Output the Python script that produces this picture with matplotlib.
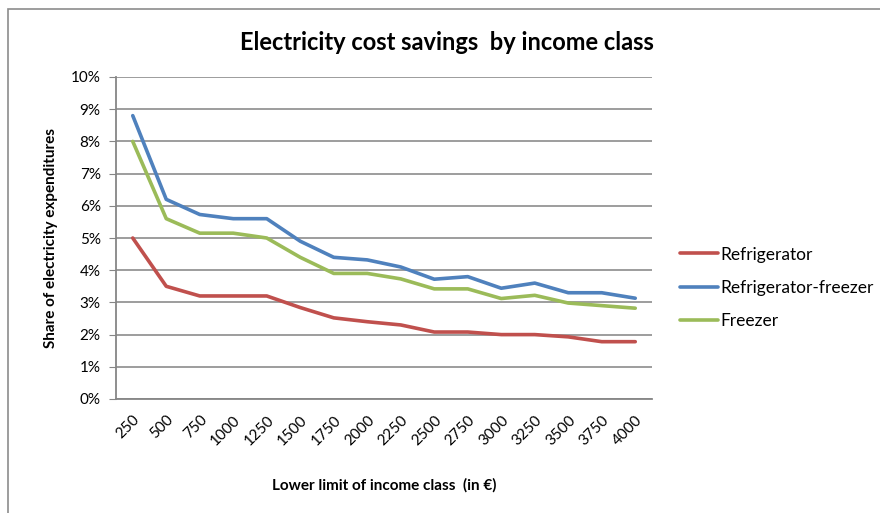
import matplotlib
matplotlib.use("Agg")
import matplotlib.pyplot as plt
from matplotlib.patches import Rectangle
from matplotlib.ticker import PercentFormatter

plt.rcParams['font.family'] = ['Lato', 'DejaVu Sans']

# ── data (share of electricity expenditures, %) ──
income_classes = ["250", "500", "750", "1000", "1250", "1500", "1750", "2000",
                  "2250", "2500", "2750", "3000", "3250", "3500", "3750", "4000"]
refrigerator = [5.0, 3.5, 3.2, 3.2, 3.2, 2.84, 2.52, 2.4, 2.3, 2.08, 2.08, 2.0, 2.0, 1.93, 1.78, 1.78]
fridge_freezer = [8.8, 6.2, 5.73, 5.6, 5.6, 4.9, 4.4, 4.32, 4.1, 3.72, 3.8, 3.44, 3.6, 3.3, 3.3, 3.13]
freezer = [8.0, 5.6, 5.15, 5.15, 5.0, 4.4, 3.9, 3.9, 3.73, 3.42, 3.42, 3.12, 3.22, 2.98, 2.9, 2.82]

series = [
    ("Refrigerator", refrigerator, "#C0504D"),
    ("Refrigerator-freezer", fridge_freezer, "#4F81BD"),
    ("Freezer", freezer, "#9BBB59"),
]

fig = plt.figure(figsize=(8.8, 5.13), dpi=100)
ax = fig.add_axes([116 / 880, 1 - 399 / 513, 536 / 880, 322 / 513])

x = list(range(len(income_classes)))
for name, vals, col in series:
    ax.plot(x, vals, color=col, linewidth=2.6, label=name, solid_capstyle="round")

ax.set_xlim(-0.5, len(income_classes) - 0.5)
ax.set_ylim(0, 10)
ax.set_yticks(range(0, 11))
ax.yaxis.set_major_formatter(PercentFormatter(decimals=0))
ax.set_xticks(x)
ax.set_xticklabels(income_classes, rotation=45, ha="right", rotation_mode="anchor")

ax.grid(axis="y", color="#8C8C8C", linewidth=1.2)
ax.set_axisbelow(True)
for s in ["top", "right"]:
    ax.spines[s].set_visible(False)
for s in ["left", "bottom"]:
    ax.spines[s].set_color("#868686")
    ax.spines[s].set_linewidth(1.3)
ax.tick_params(axis="y", length=5, color="#868686", labelsize=11, pad=6)
ax.tick_params(axis="x", length=0, labelsize=11, pad=10)

ax.set_ylabel("Share of electricity expenditures", fontsize=11, fontweight="bold", labelpad=9)
ax.set_xlabel("Lower limit of income class  (in \u20ac)", fontsize=11, fontweight="bold", labelpad=22)
fig.text(447 / 880, 1 - 42 / 513, "Electricity cost savings  by income class",
         ha="center", va="center", fontsize=17, fontweight="bold")

ax.legend(loc="center left", bbox_to_anchor=(1.052, 0.345), frameon=False, borderpad=0,
          borderaxespad=0, fontsize=12.5, handlelength=2.2, handletextpad=0.15,
          labelspacing=1.0)

# outer chart border (cropped at right and bottom)
fig.patches.append(Rectangle((8 / 880, -0.05), 1.1, 1 - 9 / 513 + 0.05,
                             transform=fig.transFigure, fill=False,
                             edgecolor="#8C8C8C", linewidth=1.2))

fig.savefig("out.png", dpi=100)
